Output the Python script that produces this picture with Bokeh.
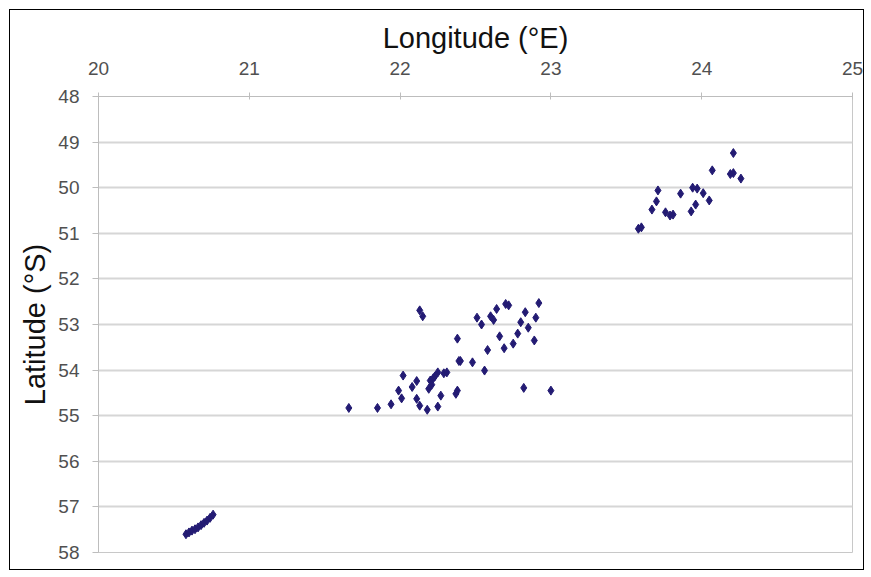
from bokeh.plotting import figure
from bokeh.models import Range1d, FixedTicker
from bokeh.embed import file_html
from bokeh.resources import INLINE

# Longitude (°E) and latitude (°S) of the stations
lon_south = [20.58, 20.60, 20.62, 20.64, 20.66, 20.68, 20.70, 20.72, 20.74, 20.76]
lat_south = [57.60, 57.56, 57.52, 57.49, 57.45, 57.40, 57.35, 57.30, 57.24, 57.17]

lon_mid = [22.13, 22.15, 22.38, 22.39, 22.02, 22.11, 22.08, 21.99, 22.01, 22.11,
           22.13, 22.18, 22.25, 22.27, 22.20, 22.19, 22.25, 22.29, 22.23, 22.38,
           22.37, 21.94, 21.85, 21.66, 22.21, 22.22, 22.31, 22.70, 22.72, 22.64,
           22.92, 22.51, 22.60, 22.62, 22.54, 22.83, 22.90, 22.80, 22.85, 22.78,
           22.89, 22.66, 22.75, 22.69, 22.58, 22.40, 22.48, 22.56, 22.82, 23.00]
lat_mid = [52.69, 52.82, 53.31, 53.80, 54.12, 54.24, 54.37, 54.45, 54.62, 54.63,
           54.78, 54.87, 54.80, 54.56, 54.23, 54.41, 54.05, 54.07, 54.14, 54.45,
           54.52, 54.75, 54.83, 54.83, 54.32, 54.18, 54.05, 52.55, 52.58, 52.66,
           52.53, 52.85, 52.82, 52.90, 53.00, 52.73, 52.85, 52.95, 53.07, 53.20,
           53.35, 53.26, 53.42, 53.52, 53.56, 53.80, 53.83, 54.01, 54.39, 54.45]

lon_north = [23.71, 23.70, 23.67, 23.76, 23.79, 23.58, 23.60, 24.21, 24.07, 24.19,
             24.21, 24.26, 23.86, 23.94, 23.97, 24.01, 24.05, 23.96, 23.93, 23.81]
lat_north = [50.06, 50.30, 50.48, 50.54, 50.61, 50.90, 50.87, 49.24, 49.62, 49.70,
             49.68, 49.80, 50.13, 50.00, 50.02, 50.12, 50.28, 50.37, 50.52, 50.59]

lon_ticks = [20, 21, 22, 23, 24, 25]
lat_ticks = [48, 49, 50, 51, 52, 53, 54, 55, 56, 57, 58]

lons = lon_south + lon_mid + lon_north
lats = lat_south + lat_mid + lat_north

FONT = "Liberation Sans"

p = figure(width=855, height=561, output_backend="svg", toolbar_location=None,
           x_axis_location="above",
           x_range=Range1d(lon_ticks[0], lon_ticks[-1]),
           y_range=Range1d(lat_ticks[-1], lat_ticks[0]),
           min_border_left=88, min_border_top=86, min_border_right=13,
           min_border_bottom=19,
           styles={"border": "1px solid #000000", "margin-left": "9px",
                   "margin-top": "9px"})

p.background_fill_color = "white"
p.border_fill_color = "white"
p.outline_line_color = "#c8c8c8"
p.outline_line_width = 1

p.xgrid.visible = False
p.ygrid.ticker = FixedTicker(ticks=lat_ticks)
p.ygrid.grid_line_color = "#d6d6d6"
p.ygrid.grid_line_width = 2

p.xaxis.ticker = FixedTicker(ticks=lon_ticks)
p.yaxis.ticker = FixedTicker(ticks=lat_ticks)
p.xaxis.minor_tick_line_color = None
p.yaxis.minor_tick_line_color = None

for ax in (p.xaxis[0], p.yaxis[0]):
    ax.axis_line_color = "#bdbdbd"
    ax.axis_line_width = 1
    ax.major_tick_line_color = "#bdbdbd"
    ax.major_label_text_font = FONT
    ax.major_label_text_font_size = "19px"
    ax.major_label_text_color = "#505050"
    ax.axis_label_text_font = FONT
    ax.axis_label_text_font_size = "29px"
    ax.axis_label_text_font_style = "normal"
    ax.axis_label_text_color = "#111111"

p.xaxis.axis_label = "Longitude (°E)"
p.yaxis.axis_label = "Latitude (°S)"
p.xaxis.major_tick_in = 3
p.xaxis.major_tick_out = 4
p.xaxis.major_label_standoff = 18
p.xaxis.axis_label_standoff = 5
p.yaxis.major_tick_in = 0
p.yaxis.major_tick_out = 6
p.yaxis.major_label_standoff = 13
p.yaxis.axis_label_standoff = 4

p.scatter(lons, lats, marker="diamond", size=9,
          fill_color="#231b73", line_color="#231b73")

open("out.html", "w").write(file_html(p, INLINE))
